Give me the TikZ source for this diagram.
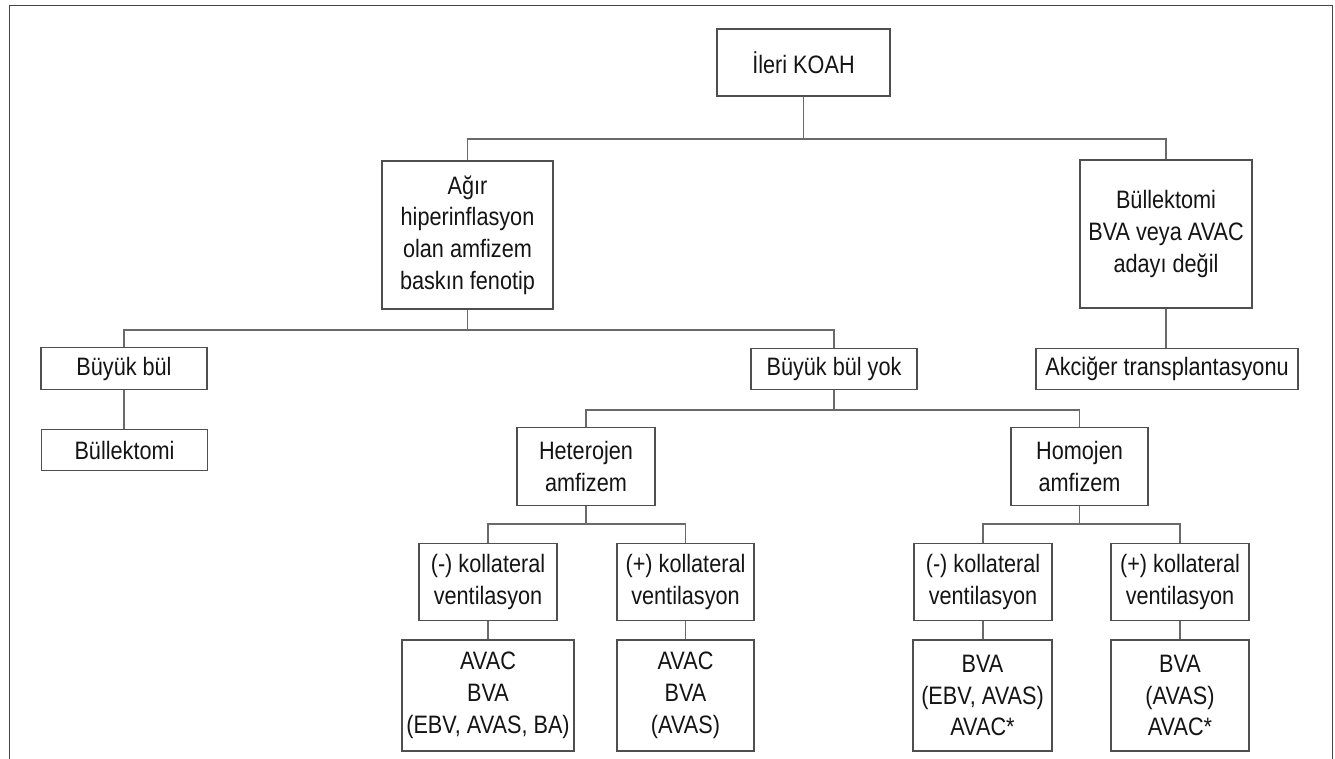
\documentclass[tikz,border=0pt]{standalone}
\usepackage{fontspec}
\setmainfont{Liberation Sans}[FakeStretch=0.86]
\newcommand\diagfont{\fontsize{12.6}{15.85}\selectfont}
\definecolor{framecol}{HTML}{444444}
\definecolor{boxcol}{HTML}{4F4F4F}
\definecolor{linecol}{HTML}{6A6A6A}
\definecolor{textcol}{HTML}{141414}
\begin{document}
\begin{tikzpicture}[x=0.5pt,y=-0.5pt,
  box/.style={draw=boxcol, line width=0.6pt, inner sep=0pt, align=center,
              text=textcol, font=\diagfont},
  onerow/.style={box, minimum height=20.8pt},
  tworow/.style={box, minimum height=38.8pt},
  conn/.style={draw=linecol, line width=0.6pt}]
\useasboundingbox (0,0) rectangle (1335,759);

% outer frame, open at the bottom
\draw[framecol, line width=0.75pt] (9.3,760) -- (9.3,5.3) -- (1332.7,5.3) -- (1332.7,760);

% bus levels
\coordinate (b1) at (0,139);
\coordinate (b2) at (0,330);
\coordinate (b3) at (0,410);
\coordinate (b4) at (0,524);

% level 0
\node[box, minimum width=86.5pt, minimum height=33.5pt] (koah) at (803.5,62.5) {İleri KOAH};

% level 1
\node[box, minimum width=85.5pt, minimum height=74pt] (agir) at (467.5,235)
  {Ağır\\hiperinflasyon\\olan amfizem\\baskın fenotip};
\node[box, minimum width=86pt, minimum height=74pt] (notcand) at (1166,234)
  {Büllektomi\\BVA veya AVAC\\adayı değil};

% level 2
\node[onerow, minimum width=83pt] (bul) at (124,368.5) {Büyük bül};
\node[onerow, minimum width=83pt] (bulyok) at (834,369) {Büyük bül yok};
\node[onerow, minimum width=131pt] (akc) at (1167,369) {Akciğer transplantasyonu};

% level 3
\node[onerow, minimum width=83pt] (bullek) at (124.5,450) {Büllektomi};
\node[tworow, minimum width=69pt] (hetero) at (586,466.5) {Heterojen\\amfizem};
\node[tworow, minimum width=68.5pt] (homo) at (1079.5,466.5) {Homojen\\amfizem};

% level 4
\node[tworow, minimum width=69pt] (hneg) at (488,582) {(-) kollateral\\ventilasyon};
\node[tworow, minimum width=68.5pt] (hpos) at (685.5,582) {(+) kollateral\\ventilasyon};
\node[tworow, minimum width=69pt] (mneg) at (983,582) {(-) kollateral\\ventilasyon};
\node[tworow, minimum width=69pt] (mpos) at (1180,582) {(+) kollateral\\ventilasyon};

% level 5
\node[box, minimum width=86pt, minimum height=55.5pt] (hnegres) at (488,695.5)
  {AVAC\\BVA\\(EBV, AVAS, BA)};
\node[box, minimum width=68.5pt, minimum height=55.5pt] (hposres) at (685.5,695.5)
  {AVAC\\BVA\\(AVAS)};
\node[box, minimum width=69.5pt, minimum height=55.5pt] (mnegres) at (982.5,695.5)
  {BVA\\(EBV, AVAS)\\AVAC*};
\node[box, minimum width=69pt, minimum height=55.5pt] (mposres) at (1180,695.5)
  {BVA\\(AVAS)\\AVAC*};

% connectors
\draw[conn] (koah.south) -- (koah.south |- b1);
\draw[conn] (agir.north) |- (b1 -| notcand.north) -- (notcand.north);

\draw[conn] (agir.south) -- (agir.south |- b2);
\draw[conn] (bul.north) |- (b2 -| bulyok.north) -- (bulyok.north);
\draw[conn] (notcand.south) -- (akc.north -| notcand.south);
\draw[conn] (bul.south) -- (bullek.north -| bul.south);

\draw[conn] (bulyok.south) -- (bulyok.south |- b3);
\draw[conn] (hetero.north) |- (b3 -| homo.north) -- (homo.north);

\draw[conn] (hetero.south) -- (hetero.south |- b4);
\draw[conn] (hneg.north) |- (b4 -| hpos.north) -- (hpos.north);
\draw[conn] (homo.south) -- (homo.south |- b4);
\draw[conn] (mneg.north) |- (b4 -| mpos.north) -- (mpos.north);

\draw[conn] (hneg.south) -- (hnegres.north -| hneg.south);
\draw[conn] (hpos.south) -- (hposres.north -| hpos.south);
\draw[conn] (mneg.south) -- (mnegres.north -| mneg.south);
\draw[conn] (mpos.south) -- (mposres.north -| mpos.south);
\end{tikzpicture}
\end{document}
